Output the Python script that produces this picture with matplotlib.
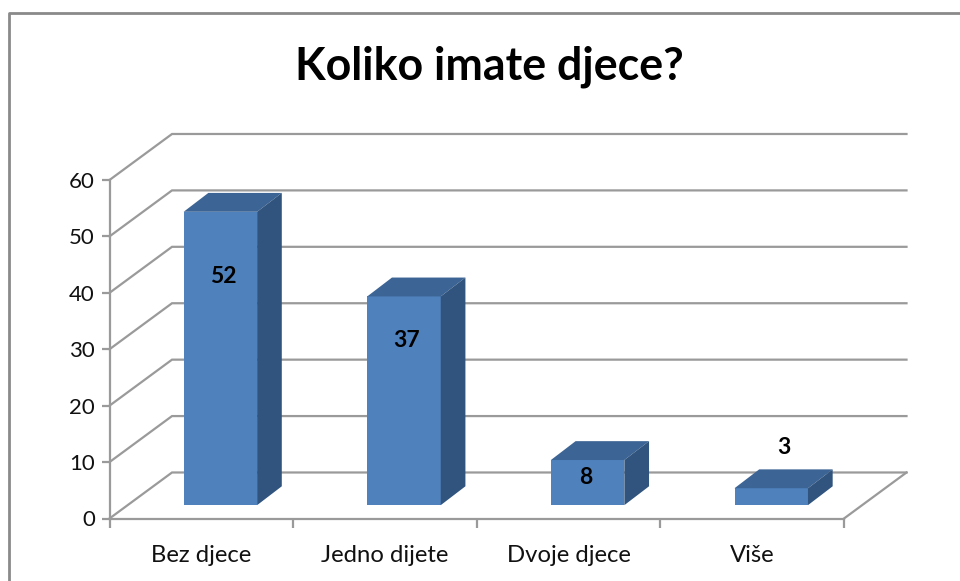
import matplotlib
matplotlib.use("Agg")
import matplotlib.pyplot as plt
from matplotlib.lines import Line2D

categories = ["Bez djece", "Jedno dijete", "Dvoje djece", "Više"]
values = [52, 37, 8, 3]
y_ticks = [0, 10, 20, 30, 40, 50, 60]

# label shift from the bar top, in pixels (3 sits above its bar)
label_shift = [-65, -44, -17, 41]
label_nudge = [3, 3, -2, 13]

W, H = 960, 581
GRID = "#9a9a9a"
FRONT = "#4f81bd"
TOP = "#3c6494"
SIDE = "#30547e"

# depth of the fake 3d box, in data units
DX = 62.5 / 183.6
DY = 46 / 5.64
BAR_W = 0.4
D0, D1 = 0.305, 0.70  # bar front and back as fraction of depth
D0_Y = 0.29

plt.rcParams["font.family"] = ["Lato", "DejaVu Sans"]

fig = plt.figure(figsize=(W / 100, H / 100), dpi=100, facecolor="white")
ax = fig.add_axes([109.5 / W, (H - 518.5) / H, 734.5 / W, 338.5 / H])
ax.set_xlim(0, 4)
ax.set_ylim(0, 60)
ax.patch.set_alpha(0)

for s in ["top", "right"]:
    ax.spines[s].set_visible(False)
for s in ["left", "bottom"]:
    ax.spines[s].set_color(GRID)
    ax.spines[s].set_linewidth(1.6)

ax.set_yticks(y_ticks)
ax.set_xticks(range(5))
ax.set_xticklabels([])
ax.set_xticks([i + 0.5 for i in range(4)], minor=True)
ax.set_xticklabels(categories, minor=True, fontsize=17.2, color="#111111")
ax.tick_params(axis="x", which="minor", length=0, pad=19)
ax.tick_params(axis="x", which="major", length=6.5, width=1.6, color=GRID)
ax.tick_params(axis="y", length=5.5, width=1.6, color=GRID, labelsize=16, labelcolor="#111111", pad=5)

# back wall and side lines
for v in y_ticks:
    ax.plot([0, DX, 4 + DX], [v, v + DY, v + DY], color=GRID, lw=1.6, clip_on=False, zorder=1,
            solid_joinstyle="miter")
ax.plot([4, 4 + DX], [0, DY], color=GRID, lw=1.6, clip_on=False, zorder=1)

# bars
for i, v in enumerate(values):
    xc = i + 0.5 + D0 * DX
    b0 = D0_Y * DY
    x0 = xc - BAR_W / 2
    x1 = xc + BAR_W / 2
    ddx = (D1 - D0) * DX
    ddy = (D1 - D0_Y) * DY
    ax.bar(xc, v, width=BAR_W, bottom=b0, color=FRONT, clip_on=False, zorder=3)
    ax.fill([x0, x0 + ddx, x1 + ddx, x1], [b0 + v, b0 + v + ddy, b0 + v + ddy, b0 + v],
            color=TOP, lw=0, clip_on=False, zorder=3)
    ax.fill([x1, x1 + ddx, x1 + ddx, x1], [b0, b0 + ddy, b0 + v + ddy, b0 + v],
            color=SIDE, lw=0, clip_on=False, zorder=3)
    ax.annotate(str(v), xy=(xc, b0 + v), xytext=(label_nudge[i], label_shift[i]),
                textcoords="offset pixels", ha="center", va="center",
                fontsize=16.5, fontweight="bold", color="black", zorder=5)

fig.text(489 / W, 1 - 67 / H, "Koliko imate djece?", ha="center", va="center",
         fontsize=32.2, fontweight="bold", color="black")

# chart frame, cut off at the bottom and right of the screenshot
fig.add_artist(Line2D([8.5 / W, 8.5 / W, 1], [0, 1 - 13 / H, 1 - 13 / H], color="#8a8a8a", lw=2))

fig.savefig("out.png", dpi=100)
